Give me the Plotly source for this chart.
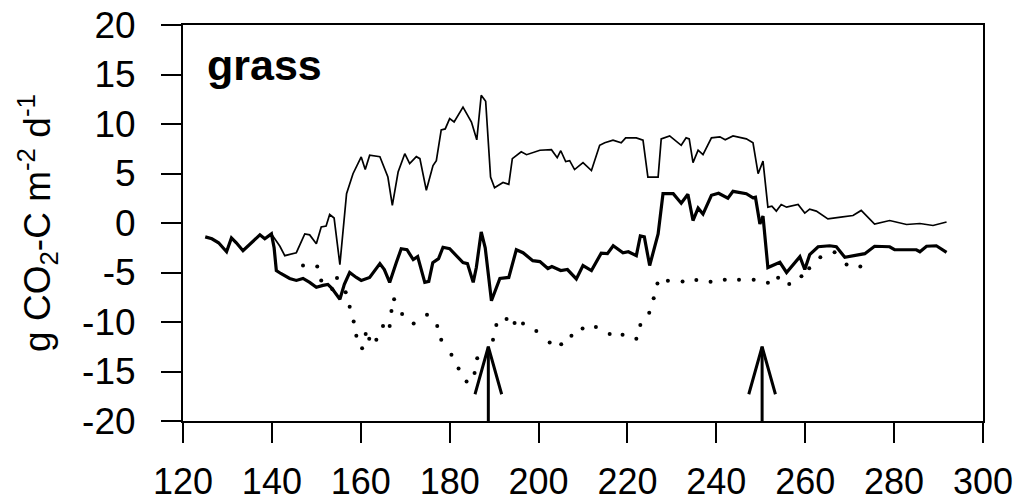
import plotly.graph_objects as go

# ---------------- data ----------------
thick_days = [125, 126.5, 128, 129.8, 130.9, 132, 133.5, 135, 137.3, 138.4, 139.9, 140.5, 141, 142, 144,
              145.5, 147, 148.5, 150, 151.5, 152.6, 153.5, 155.3, 156.3, 157.5, 159, 160.1, 162, 164.3,
              165.3, 166.5, 168, 169.1, 170.4, 171.8, 172.8, 174.4, 175.3, 176.2, 177.5, 178.5, 180,
              181.5, 183, 184, 185.3, 186, 187.1, 188, 189.4, 191.3, 193.3, 195, 196.5, 198.7, 200.3,
              202.1, 203, 205, 206.5, 208.5, 210, 211.9, 214.1, 215.5, 216.8, 219, 220.2, 222, 222.9,
              223.8, 225, 226.9, 228, 230.3, 232.1, 233.6, 234.75, 235.9, 237, 238.9, 240.5, 242.6,
              243.75, 246.75, 248.25, 248.8, 249.8, 250.5, 251.6, 254.3, 255.8, 258.8, 259.9, 261,
              262.9, 265.5, 267, 268.9, 273.4, 275.6, 279, 280.1, 285, 285.8, 287.3, 289.5, 291.8]
thick_vals = [-1.4, -1.6, -2.0, -2.9, -1.5, -2.0, -2.8, -2.2, -1.2, -1.6, -1.1, -2.5, -4.8, -5.1, -5.6,
              -5.8, -5.6, -6.0, -6.5, -6.3, -6.2, -6.6, -7.7, -6.2, -5.0, -5.5, -5.8, -5.5, -4.1,
              -4.7, -6.0, -4.0, -2.6, -2.7, -3.7, -3.4, -6.0, -5.9, -4.0, -3.6, -2.45, -2.6,
              -3.3, -4.0, -4.1, -6.0, -4.5, -0.9, -2.5, -7.85, -5.6, -5.5, -2.7, -3.0, -3.8, -3.9,
              -4.6, -4.4, -4.8, -4.7, -5.65, -4.3, -4.8, -3.05, -3.1, -2.3, -3.0, -2.9, -3.3, -1.3,
              -1.4, -4.3, -1.1, 2.96, 2.96, 2.0, 2.9, 0.25, 1.5, 0.9, 2.8, 3.0, 2.5,
              3.2, 2.96, 2.55, 2.6, -0.1, 0.7, -4.5, -3.97, -5.0, -3.4, -4.7, -3.2,
              -2.4, -2.3, -2.4, -3.46, -3.1, -2.35, -2.4, -2.7, -2.7, -2.9, -2.35, -2.3, -2.96]

thin_days = [139.9, 141.8, 142.9, 145.5, 147.4, 148.5, 150, 151.1, 152.2, 153, 154, 155.3, 156.8, 158.25,
             160.1, 161, 162, 164.3, 166.1, 167.1, 168.4, 169.9, 171, 172.5, 173.3, 174.75, 176.25, 177,
             178.1, 179, 180, 181, 183, 184.9, 186.1, 187.1, 188.1, 189.2, 190.1, 192, 193.3, 194.1,
             196.1, 197.3, 200.3, 202.9, 204.2, 205, 206.1, 207, 208.1, 210, 211.9, 213.75, 214.9,
             216.75, 218.6, 219.6, 222, 223.5, 224.6, 226.9, 227.6, 229.5, 232.1, 233.2, 233.9, 234.75,
             235.9, 237, 238.9, 240.8, 242, 243.75, 246.75, 248.25, 249.4, 250.5, 251.6, 252.5, 253.5,
             254.6, 255.8, 258.4, 259.9, 261, 262.5, 265.1, 268, 270.75, 272.6, 275.6, 279, 282.8,
             285.8, 288.75, 291.8]
thin_vals = [-1.1, -2.35, -3.3, -3.0, -1.1, -1.2, -2.1, -0.4, -0.3, 0.86, 0.5, -4.2, 2.96, 4.98,
             6.67, 5.4, 6.84, 6.7, 4.64, 1.77, 5.15, 7.0, 6.0, 6.7, 6.5, 3.3, 5.8, 6.3,
             9.4, 9.5, 10.55, 10.2, 11.7, 10.2, 8.4, 12.9, 12.3, 4.64, 3.56, 4.1, 3.9, 6.5,
             7.2, 6.9, 7.35, 7.4, 6.6, 7.3, 6.2, 6.3, 5.4, 6.1, 5.3, 7.85, 8.1,
             8.36, 8.1, 8.6, 8.6, 8.36, 4.64, 4.64, 8.5, 8.8, 7.85, 8.6, 8.5, 6.1,
             7.35, 6.9, 8.6, 8.7, 8.4, 8.8, 8.5, 8.1, 4.98, 6.25, 1.6, 1.7, 1.2,
             1.87, 1.6, 1.87, 1.0, 1.4, 1.2, 0.42, 0.6, 0.76, 1.27, -0.1, 0.25, -0.15,
             -0.05, -0.25, 0.1]

dot_days = [147.0, 150.2, 151.1, 153.6, 154.65, 156.6, 157.5, 158.4, 159.0, 160.3, 161.1, 161.9, 163.5,
            165.0, 166.5, 166.9, 167.5, 169.3, 171.9, 174.9, 177.2, 178.1, 180.4, 182.0, 183.8, 185.6,
            186.2, 189.75, 190.5, 192.8, 194.6, 196.5, 199.5, 202.5, 205.1, 207.4, 209.9, 212.9, 216.0,
            218.9, 222.0, 222.9, 224.9, 225.9, 226.75, 229.1, 232.4, 235.5, 238.7, 241.9, 245.1, 248.4,
            251.6, 253.9, 256.4, 259.15, 260.9, 263.4, 266.6, 269.3, 272.4]
dot_vals = [-4.3, -4.4, -5.8, -6.7, -5.55, -7.0, -8.46, -9.95, -11.4, -12.65, -11.2, -11.7, -11.8,
            -10.4, -10.4, -8.9, -7.7, -9.2, -10.15, -9.27, -10.4, -11.8, -13.3, -14.7, -16.0, -15.15,
            -13.66, -11.8, -10.3, -9.7, -10.1, -10.15, -10.9, -12.07, -12.24, -11.4, -10.66, -10.5, -11.2,
            -11.3, -11.7, -10.3, -9.07, -7.6, -6.1, -5.83, -5.9, -5.75, -5.93, -5.72, -5.72, -5.72,
            -6.03, -5.52, -6.16, -5.39, -4.58, -3.46, -2.96, -4.2, -4.4]

# event arrows (day of event, tip value)
arrow_days = [188.7, 250.3]
arrow_tip = -12.5
arrow_base = -20
arrow_head_len = 4.8   # in y units
arrow_head_half = 3.0  # in days

x_ticks = [120, 140, 160, 180, 200, 220, 240, 260, 280, 300]
y_ticks = [-20, -15, -10, -5, 0, 5, 10, 15, 20]
y_ticktext = ["-20", "-15", "-10", "-5", "0", "5", "10", "15", "20"]

FONT = "Liberation Sans, Arial, Helvetica, sans-serif"

fig = go.Figure()
fig.add_trace(go.Scatter(x=thin_days, y=thin_vals, mode="lines",
                         line=dict(color="black", width=1.7), showlegend=False))
fig.add_trace(go.Scatter(x=thick_days, y=thick_vals, mode="lines",
                         line=dict(color="black", width=3.2), showlegend=False))
fig.add_trace(go.Scatter(x=dot_days, y=dot_vals, mode="markers",
                         marker=dict(color="black", size=4), showlegend=False))

for d in arrow_days:
    fig.add_trace(go.Scatter(x=[d, d], y=[arrow_base, arrow_tip], mode="lines",
                             line=dict(color="black", width=3), showlegend=False))
    fig.add_trace(go.Scatter(x=[d - arrow_head_half, d, d + arrow_head_half],
                             y=[arrow_tip - arrow_head_len, arrow_tip, arrow_tip - arrow_head_len],
                             mode="lines", line=dict(color="black", width=3), showlegend=False))

fig.add_annotation(text="<b>grass</b>", xref="paper", yref="paper", x=0.027, y=0.965,
                   xanchor="left", yanchor="top", showarrow=False,
                   font=dict(size=43, family=FONT, color="black"))

axis_common = dict(showgrid=False, zeroline=False, showline=True, linecolor="black", linewidth=2,
                   mirror=True, ticks="outside", ticklen=20, tickwidth=2, tickcolor="black",
                   automargin=False, ticklabeloverflow="allow")

fig.update_xaxes(range=[120, 300], tickvals=x_ticks, ticklabelstandoff=8,
                 tickfont=dict(size=36, family=FONT, color="black"), **axis_common)
fig.update_yaxes(range=[-20, 20], tickvals=y_ticks, ticktext=y_ticktext, ticklabelstandoff=18,
                 tickfont=dict(size=37, family=FONT, color="black"),
                 title=dict(text="g CO<sub>2</sub>-C m<sup>-2</sup> d<sup>-1</sup>",
                            font=dict(size=37, family=FONT, color="black"), standoff=20),
                 **axis_common)

# page body has an 8px margin: shrink figure and margins so the plot area lands at
# x 183..983, y 25..420.5 in the window
fig.update_layout(width=1015, height=494, margin=dict(l=175, r=40, t=17, b=81, pad=0),
                  plot_bgcolor="white", paper_bgcolor="white",
                  font=dict(family=FONT, color="black"))

fig.write_html("out.html")
